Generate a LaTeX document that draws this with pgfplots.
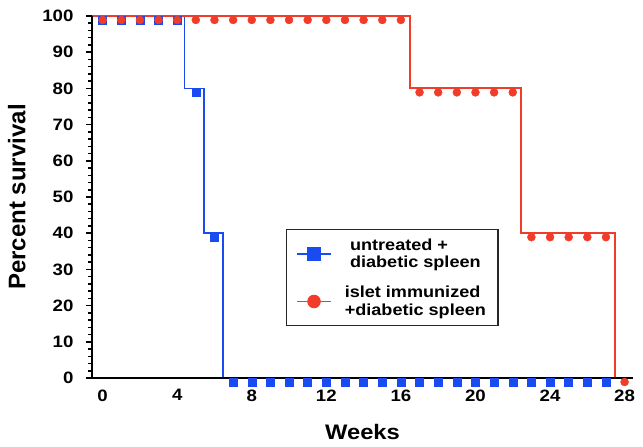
\documentclass[border=0pt]{standalone}
\usepackage{pgfplots}
\pgfplotsset{compat=1.18}
\usepackage{fontspec}
\setmainfont{Liberation Sans}[FakeStretch=1.13]
\newfontfamily\plainfont{Liberation Sans}
\definecolor{kmblue}{RGB}{25,75,240}
\definecolor{kmred}{RGB}{240,60,40}
\begin{document}
\begin{tikzpicture}
\begin{axis}[name=ax, scale only axis, width=541pt, height=362pt,
  xmin=-0.57, xmax=28.45, ymin=0, ymax=100,
  axis x line=bottom, axis y line=left,
  axis line style={-, line width=1.8pt, black},
  clip=false, axis on top,
  xtick={0,4,...,28}, ytick={0,10,...,100}, minor y tick num=4,
  x tick style={draw=none},
  y tick style={line width=1.5pt, black},
  ytick align=outside,
  major tick length=6pt, minor tick length=3.5pt,
  ticklabel style={font=\fontsize{16.5}{18}\selectfont\bfseries},
  yticklabel style={xshift=-9pt},
  xticklabel style={yshift=-5pt},
  /pgf/number format/assume math mode=true,
  xlabel={Weeks}, ylabel={Percent survival},
  xlabel style={font=\fontsize{21}{24}\selectfont\bfseries, yshift=-16pt},
  ylabel style={font=\fontsize{24}{27}\selectfont\plainfont\bfseries, yshift=10pt},
  legend style={at={(0.358,0.4116)}, anchor=north west, draw=black!85,
    line width=1.2pt, font=\fontsize{16}{17.5}\selectfont\bfseries,
    cells={align=left}, inner xsep=10pt, inner ysep=7pt, row sep=13pt,
    /tikz/every odd column/.append style={column sep=11pt}},
  legend image code/.code={\draw[mark repeat=2,mark phase=2,#1] plot coordinates {(0pt,0pt) (17pt,0pt) (34pt,0pt)};},
]
% censor marks
\addplot[only marks, mark=square*, mark size=4pt, color=kmblue, forget plot] coordinates {
(0,98.9)(1,98.9)(2,98.9)(3,98.9)(4,98.9)(5,78.9)(6,38.9)
(7,-1.1)(8,-1.1)(9,-1.1)(10,-1.1)(11,-1.1)(12,-1.1)(13,-1.1)(14,-1.1)(15,-1.1)(16,-1.1)(17,-1.1)
(18,-1.1)(19,-1.1)(20,-1.1)(21,-1.1)(22,-1.1)(23,-1.1)(24,-1.1)(25,-1.1)(26,-1.1)(27,-1.1)};
\addplot[only marks, mark=*, mark size=4pt, color=kmred, forget plot] coordinates {
(0,98.9)(1,98.9)(2,98.9)(3,98.9)(4,98.9)(5,98.9)(6,98.9)(7,98.9)(8,98.9)(9,98.9)(10,98.9)
(11,98.9)(12,98.9)(13,98.9)(14,98.9)(15,98.9)(16,98.9)
(17,78.9)(18,78.9)(19,78.9)(20,78.9)(21,78.9)(22,78.9)
(23,38.9)(24,38.9)(25,38.9)(26,38.9)(27,38.9)(28,-1.1)};
% survival steps
\addplot[const plot, color=kmblue, line width=1.5pt, forget plot] coordinates {
(-0.57,100)(4.4,80)(5.45,40)(6.45,0)(28.45,0)};
\addplot[const plot, color=kmred, line width=2pt, forget plot] coordinates {
(-0.57,100)(16.48,80)(22.46,40)(27.47,0)(28.45,0)};
\addlegendimage{kmblue, line width=1.5pt, mark=square*, mark size=6pt}
\addlegendentry{untreated +\\diabetic spleen}
\addlegendimage{kmred, line width=1.5pt, mark=*, mark size=6pt}
\addlegendentry{islet immunized\\+diabetic spleen}
\end{axis}
\pgfresetboundingbox
\path ([xshift=-92pt,yshift=-69pt]ax.south west) rectangle ([xshift=10pt,yshift=16pt]ax.north east);
\end{tikzpicture}
\end{document}
